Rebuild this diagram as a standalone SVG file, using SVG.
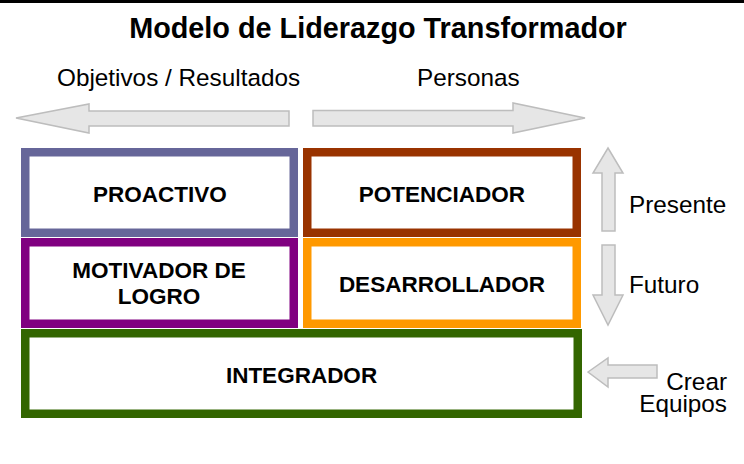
<svg xmlns="http://www.w3.org/2000/svg" width="744" height="464" viewBox="0 0 744 464">
  <style>
    .t { font-family: "Liberation Sans", Arial, sans-serif; fill: #000; }
    .lbl { font-family: "Liberation Sans", Arial, sans-serif; font-weight: bold; font-size: 22.5px; fill: #000; text-anchor: middle; }
    .side { font-family: "Liberation Sans", Arial, sans-serif; font-size: 24.3px; fill: #000; }
    .arrow { fill: #e6e6e6; stroke: #bdbdbd; stroke-width: 1.5; stroke-linejoin: miter; }
    .box { fill: #ffffff; stroke-width: 8.5; }
  </style>
  <rect x="0" y="0" width="744" height="464" fill="#ffffff"/>
  <rect x="0" y="0" width="744" height="3" fill="#000000"/>

  <text class="t" x="378" y="37.5" font-size="28.8" font-weight="bold" text-anchor="middle">Modelo de Liderazgo Transformador</text>
  <text class="side" x="57" y="86">Objetivos / Resultados</text>
  <text class="side" x="417" y="86">Personas</text>

  <g id="connectors">
    <polygon class="arrow" points="16,118 89,104 89,111 289,111 289,126 89,126 89,133"/>
    <polygon class="arrow" points="313,110.5 513,110.5 513,103 585,118 513,133 513,126 313,126"/>
    <polygon class="arrow" points="608,148 623,173 615,173 615,231 602,231 602,173 593,173"/>
    <polygon class="arrow" points="602,245 615,245 615,295 623,295 608,325 593,295 602,295"/>
    <polygon class="arrow" points="588,372 608,358 608,365 657,365 657,378 608,378 608,387"/>
  </g>

  <g id="proactivo">
    <rect class="box" x="25.25" y="152.25" width="268.5" height="80.5" stroke="#666699"/>
    <text class="lbl" x="160" y="201.5">PROACTIVO</text>
  </g>
  <g id="potenciador">
    <rect class="box" x="307.25" y="152.25" width="269.5" height="80.5" stroke="#993300"/>
    <text class="lbl" x="442" y="201.5">POTENCIADOR</text>
  </g>
  <g id="motivador">
    <rect class="box" x="25.25" y="242.25" width="268.5" height="81.5" stroke="#800080"/>
    <text class="lbl" x="159" y="278">MOTIVADOR DE</text>
    <text class="lbl" x="159" y="304">LOGRO</text>
  </g>
  <g id="desarrollador">
    <rect class="box" x="307.25" y="242.25" width="269.5" height="81.5" stroke="#ff9900"/>
    <text class="lbl" x="442" y="291.5">DESARROLLADOR</text>
  </g>
  <g id="integrador">
    <rect class="box" x="25.25" y="333.25" width="552.5" height="80.5" stroke="#336600"/>
    <text class="lbl" x="301.5" y="383.3">INTEGRADOR</text>
  </g>

  <text class="side" x="629" y="213.3">Presente</text>
  <text class="side" x="629" y="293.3">Futuro</text>
  <text class="side" x="727" y="390" text-anchor="end">Crear</text>
  <text class="side" x="727" y="411.7" text-anchor="end">Equipos</text>
</svg>
